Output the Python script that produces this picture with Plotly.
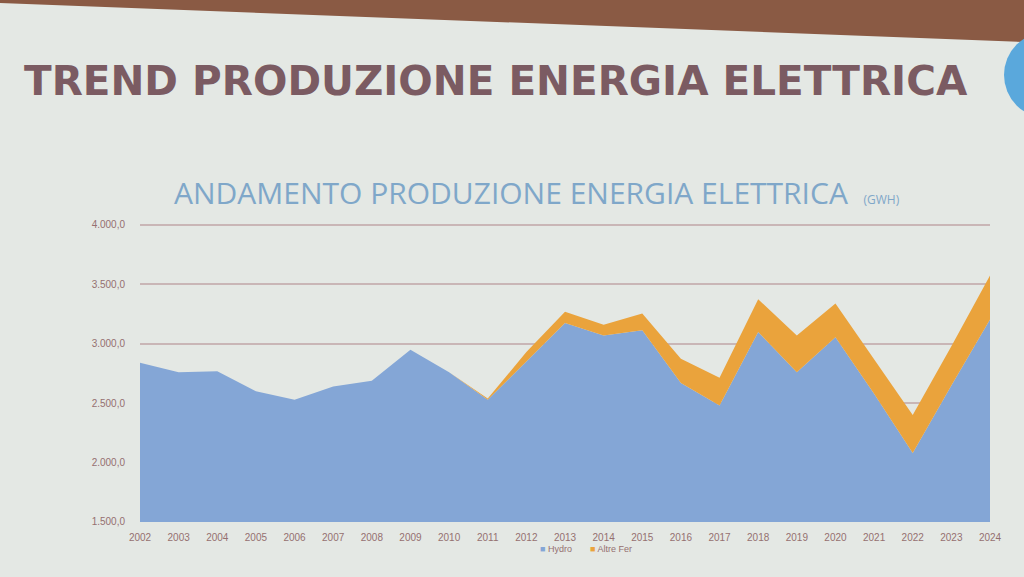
import plotly.graph_objects as go

years = [str(y) for y in range(2002, 2025)]
hydro = [2840, 2760, 2770, 2600, 2530, 2640, 2690, 2950, 2760, 2530, 2850, 3175,
         3070, 3115, 2670, 2480, 3100, 2760, 3055, 2580, 2080, 2650, 3205]
altre_fer = [0, 0, 0, 0, 0, 0, 0, 0, 0, 10, 80, 95,
             90, 140, 205, 235, 275, 310, 285, 290, 320, 330, 370]
y_ticks = [1500, 2000, 2500, 3000, 3500, 4000]
series_names = ["Hydro", "Altre Fer"]
series_colors = ["#84a6d6", "#eaa33c"]

W, H = 1024, 577
px = lambda x: x / W
py = lambda y: 1 - y / H

fig = go.Figure()
for name, vals, col in zip(series_names, [hydro, altre_fer], series_colors):
    fig.add_trace(go.Scatter(x=years, y=vals, name=name, stackgroup="one",
                             mode="none", fillcolor=col, showlegend=False))

axis_font = dict(family="Liberation Sans, Arial", size=10, color="#957070")

top_val = 4040
top_px = 522 - (top_val - 1500) * (522 - 225) / 2500

legend_html = "\u2003\u2003".join(
    f"<span style='color:{c}'>■</span> {n}" for n, c in zip(series_names, series_colors))

fig.update_layout(
    width=W, height=H,
    margin=dict(l=0, r=0, t=0, b=0, pad=0, autoexpand=False),
    paper_bgcolor="#e4e8e4",
    plot_bgcolor="rgba(0,0,0,0)",
    separators=",.",
    showlegend=False,
    xaxis=dict(domain=[px(140), px(990)], type="category", range=[0, len(years) - 1],
               showgrid=False, zeroline=False, showline=False, ticks="",
               tickfont=axis_font, ticklabelstandoff=8, automargin=False),
    yaxis=dict(domain=[py(522), py(top_px)], range=[1500, top_val], tickvals=y_ticks,
               tickformat=",.1f", showgrid=True, gridcolor="#c9b6b6", gridwidth=1.5,
               zeroline=False, showline=False, ticks="",
               tickfont=axis_font, ticklabelstandoff=14, automargin=False),
    shapes=[
        dict(type="path", xref="paper", yref="paper", layer="above",
             path=f"M 0 1 L 1 1 L 1 {py(42)} L 0 {py(3)} Z",
             fillcolor="#8a5a44", line=dict(width=0)),
        dict(type="circle", xref="paper", yref="paper", layer="above",
             x0=px(1004), x1=px(1090), y0=py(118), y1=py(32),
             fillcolor="#5aa8dc", line=dict(width=0)),
    ],
    annotations=[
        dict(text="<b>TREND PRODUZIONE ENERGIA ELETTRICA</b>", xref="paper", yref="paper",
             x=px(22), y=py(81), xanchor="left", yanchor="middle", showarrow=False,
             font=dict(family="DejaVu Sans", size=40.5, color="#7b5b62")),
        dict(text="ANDAMENTO PRODUZIONE ENERGIA ELETTRICA&nbsp;&nbsp;<span style='font-size:12px'>(GWH)</span>",
             xref="paper", yref="paper", x=px(172), y=py(192), xanchor="left", yanchor="middle",
             showarrow=False, font=dict(family="Open Sans", size=30, color="#7fa7c9")),
        dict(text=legend_html, xref="paper", yref="paper", x=px(586), y=py(549),
             xanchor="center", yanchor="middle", showarrow=False,
             font=dict(family="Liberation Sans, Arial", size=9, color="#957070")),
    ],
)

fig.write_html("out.html", config={"displayModeBar": False},
               post_script="document.body.style.margin='0';document.body.style.background='#e4e8e4';")
